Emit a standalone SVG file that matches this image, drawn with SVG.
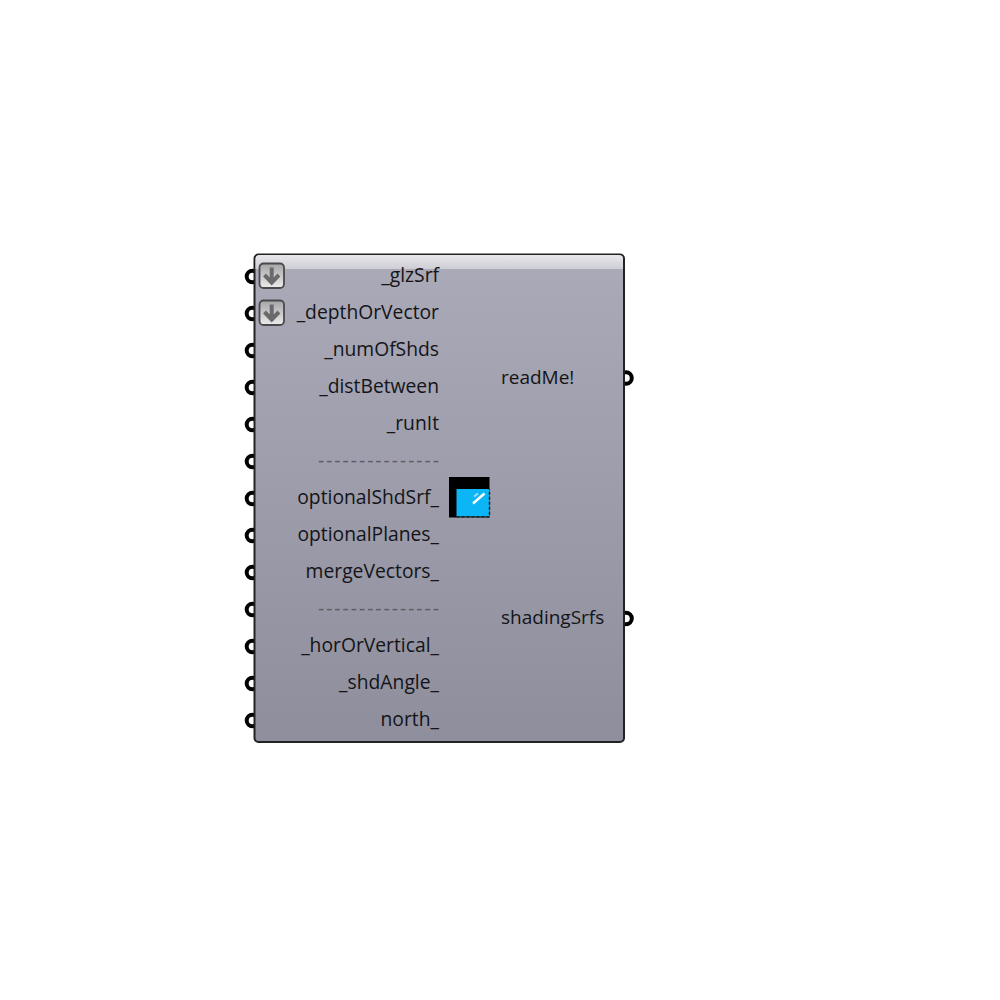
<svg xmlns="http://www.w3.org/2000/svg" width="1000" height="1000" viewBox="0 0 1000 1000">
<style>
.t{font-family:"Open Sans","Noto Sans","Liberation Sans",sans-serif;font-size:19px;fill:#141418}
.i{text-anchor:end;font-size:19.3px}
.d{fill:#5c5c66;letter-spacing:2px}
.p{fill:#fff;stroke:#000;stroke-width:4}
.b{fill:url(#btn);stroke:#4a4a4a;stroke-width:1.8}
.a{fill:none;stroke:#6a6a6a;stroke-width:4}
</style>
<defs>
<linearGradient id="body" x1="0" y1="0" x2="0" y2="1"><stop offset="0" stop-color="#aaaab8"/><stop offset="1" stop-color="#8e8e9c"/></linearGradient>
<linearGradient id="top" x1="0" y1="0" x2="0" y2="1"><stop offset="0" stop-color="#e8e8ec"/><stop offset="1" stop-color="#cdcdd4"/></linearGradient>
<linearGradient id="btn" x1="0" y1="0" x2="0" y2="1"><stop offset="0" stop-color="#a4a4a8"/><stop offset="1" stop-color="#ececec"/></linearGradient>
</defs>
<g id="connectors">
<circle class="p" cx="252.500" cy="276.500" r="5.800"/><circle class="p" cx="252.500" cy="313.500" r="5.800"/><circle class="p" cx="252.500" cy="350.500" r="5.800"/><circle class="p" cx="252.500" cy="387.500" r="5.800"/><circle class="p" cx="252.500" cy="424.500" r="5.800"/><circle class="p" cx="252.500" cy="461.500" r="5.800"/><circle class="p" cx="252.500" cy="498.500" r="5.800"/><circle class="p" cx="252.500" cy="535.500" r="5.800"/><circle class="p" cx="252.500" cy="572.500" r="5.800"/><circle class="p" cx="252.500" cy="609.500" r="5.800"/><circle class="p" cx="252.500" cy="646.500" r="5.800"/><circle class="p" cx="252.500" cy="683.500" r="5.800"/><circle class="p" cx="252.500" cy="720.500" r="5.800"/>
<circle class="p" cx="626" cy="378" r="5.800"/><circle class="p" cx="626" cy="618.500" r="5.800"/>
</g>
<g id="component">
<rect x="254.500" y="254.500" width="369.500" height="487.500" rx="4" fill="url(#body)" stroke="#222" stroke-width="2"/>
<path d="M255.500 269V259a4 4 0 0 1 4-4H619a4 4 0 0 1 4 4V269Z" fill="url(#top)"/>
</g>
<g id="flatten1">
<rect class="b" x="259.500" y="263.500" width="24.500" height="24.500" rx="4"/>
<path class="a" d="M271.700 267.500V282.500M264.500 275l7.200 7.500 7.200-7.500"/>
</g>
<g id="flatten2">
<rect class="b" x="259.500" y="300.500" width="24.500" height="24.500" rx="4"/>
<path class="a" d="M271.700 304.500V319.500M264.500 312l7.200 7.500 7.200-7.500"/>
</g>
<g id="inputs">
<text class="t i" x="439" y="282">_glzSrf</text>
<text class="t i" x="439" y="319">_depthOrVector</text>
<text class="t i" x="439" y="356">_numOfShds</text>
<text class="t i" x="439" y="393">_distBetween</text>
<text class="t i" x="439" y="430">_runIt</text>
<text class="t i d" x="441" y="467">---------------</text>
<text class="t i" x="439" y="504">optionalShdSrf_</text>
<text class="t i" x="439" y="541">optionalPlanes_</text>
<text class="t i" x="439" y="578">mergeVectors_</text>
<text class="t i d" x="441" y="615">---------------</text>
<text class="t i" x="439" y="652">_horOrVertical_</text>
<text class="t i" x="439" y="689">_shdAngle_</text>
<text class="t i" x="439" y="726">north_</text>
</g>
<g id="outputs">
<text class="t" x="501" y="384">readMe!</text>
<text class="t" x="501" y="624">shadingSrfs</text>
</g>
<g id="icon">
<rect x="449" y="477" width="40.500" height="40.500" fill="#000"/>
<rect x="456.500" y="489" width="33" height="27.500" fill="#0cb6f6"/>
<path d="M456.500 516.700H489.500V489" fill="none" stroke="#222" stroke-width="1.500" stroke-dasharray="3 2"/>
<path d="M473 503.500L484.500 493.500" stroke="#fff" stroke-width="2.500"/>
<path d="M474 496.500L478 493.500" stroke="#9fdcf8" stroke-width="2"/>
</g>
</svg>
